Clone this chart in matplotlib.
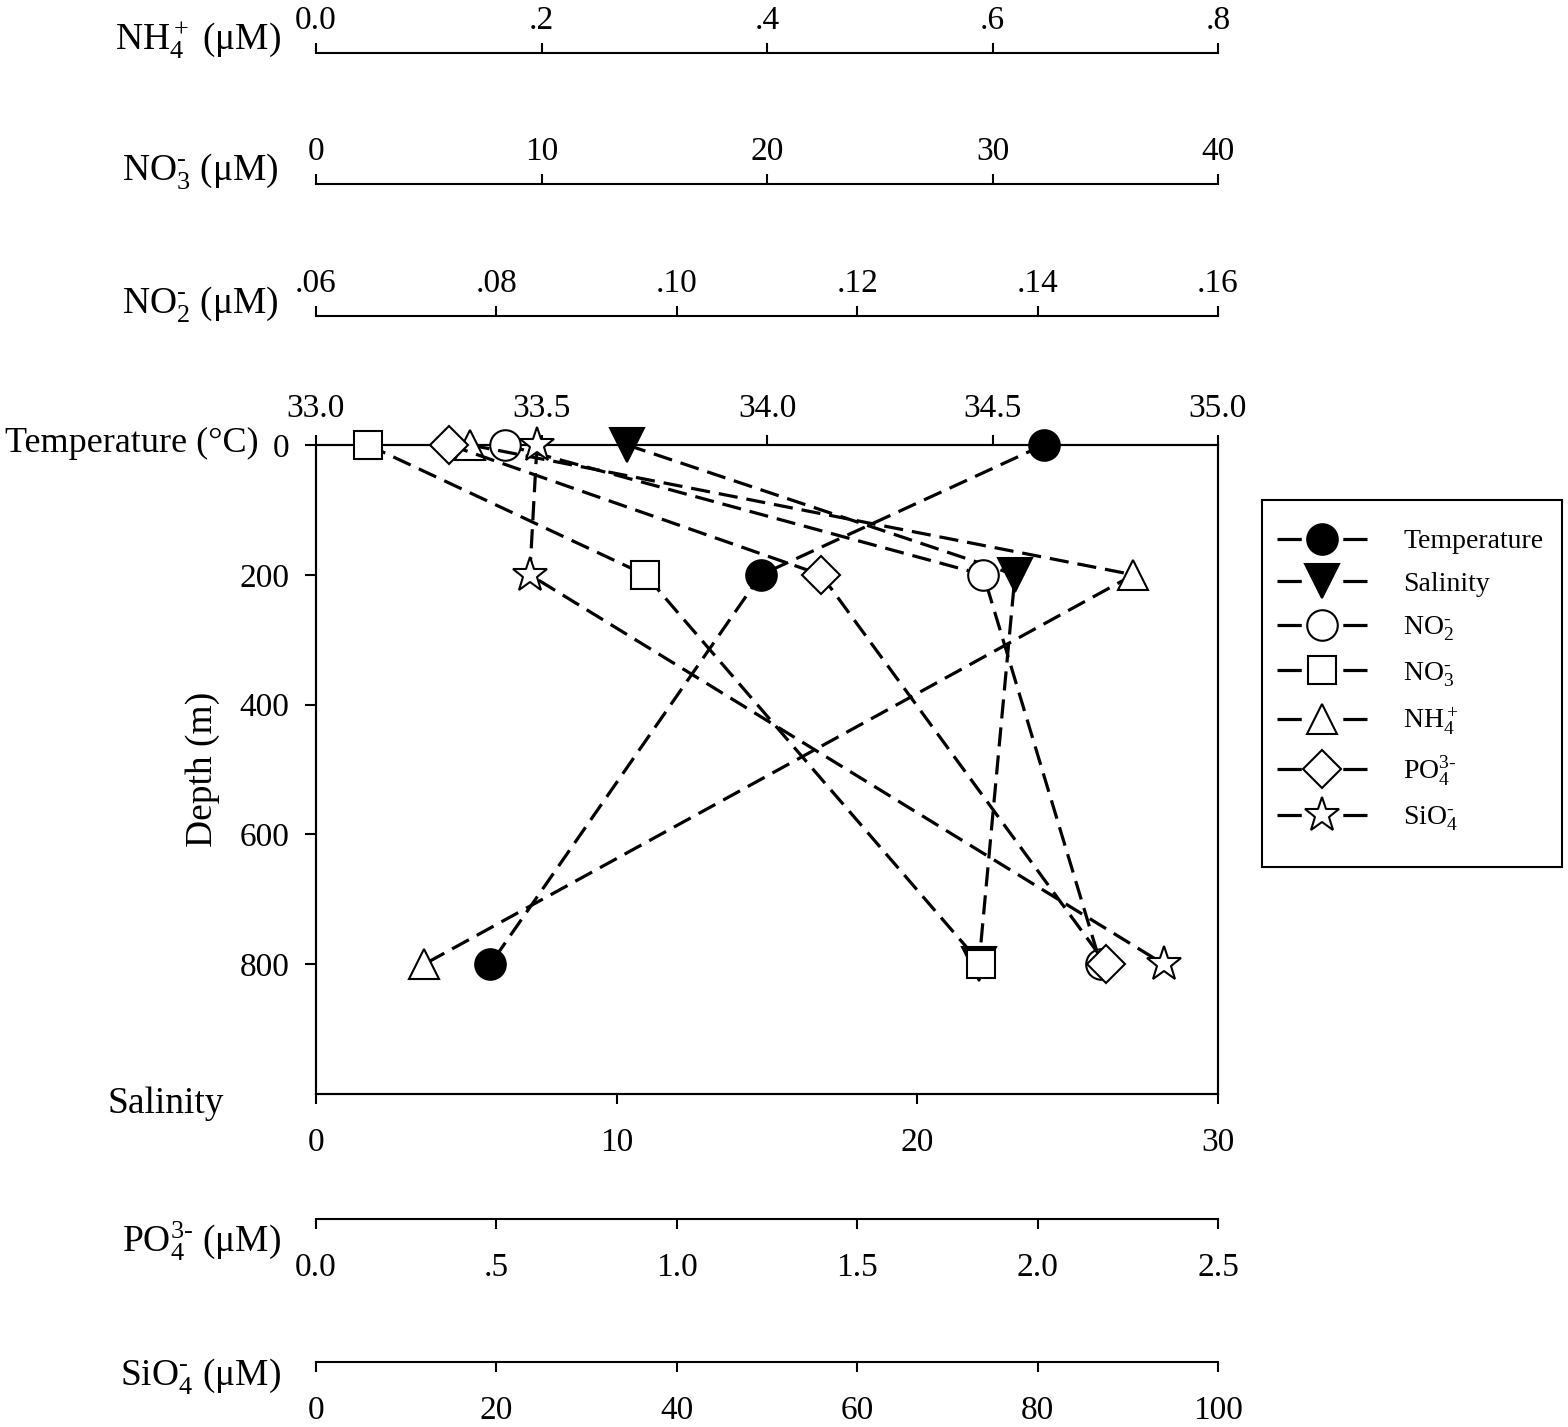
import numpy as np
import matplotlib.pyplot as plt
from matplotlib.lines import Line2D
from matplotlib.patches import Rectangle

plt.rcParams['font.family'] = ['Liberation Serif', 'DejaVu Serif']
plt.rcParams['mathtext.fontset'] = 'custom'
plt.rcParams['mathtext.rm'] = 'Liberation Serif'
plt.rcParams['mathtext.it'] = 'Liberation Serif:italic'
plt.rcParams['mathtext.bf'] = 'Liberation Serif:bold'

# ── data ─────────────────────────────────────────────────────────────────────
depth = [0, 200, 800]
temperature = [24.2, 14.8, 5.8]      # bottom scale 0-30
salinity = [33.69, 34.55, 34.47]     # top scale 33-35
no2 = [0.081, 0.134, 0.147]
no3 = [2.3, 14.6, 29.5]
nh4 = [0.137, 0.725, 0.096]
po4 = [0.37, 1.40, 2.19]
sio4 = [24.5, 23.7, 94.0]

names = ['Temperature', 'Salinity', r'NO$_2^{\text{-}}$', r'NO$_3^{\text{-}}$',
         'NH$_4^+$', r'PO$_4^{\text{3-}}$', r'SiO$_4^{\text{-}}$']

depth_ticks = [0, 200, 400, 600, 800]
temp_ticks = [0, 10, 20, 30]
sal_ticks = [33.0, 33.5, 34.0, 34.5, 35.0]
sal_labels = ['33.0', '33.5', '34.0', '34.5', '35.0']
nh4_ticks = [0.0, 0.2, 0.4, 0.6, 0.8]
nh4_labels = ['0.0', '.2', '.4', '.6', '.8']
no3_ticks = [0, 10, 20, 30, 40]
no2_ticks = [0.06, 0.08, 0.10, 0.12, 0.14, 0.16]
no2_labels = ['.06', '.08', '.10', '.12', '.14', '.16']
po4_ticks = [0.0, 0.5, 1.0, 1.5, 2.0, 2.5]
po4_labels = ['0.0', '.5', '1.0', '1.5', '2.0', '2.5']
sio4_ticks = [0, 20, 40, 60, 80, 100]

# ── layout helpers (pixels -> figure fraction) ───────────────────────────────
W, H = 1568, 1427
L, R = 316 / W, 1218 / W
def fy(p): return 1 - p / H

TICK = 24
LAB = 27
LW = 1.5
MLW = 2.3
DASH = (0, (6, 2.8))

fig = plt.figure(figsize=(W / 100, H / 100), dpi=100)
ax = fig.add_axes([L, fy(1094), R - L, fy(445) - fy(1094)])
ax.set_ylim(1000, 0)
ax.set_xlim(0, 30)
ax.set_yticks(depth_ticks)
ax.set_xticks(temp_ticks)
for s in ax.spines.values():
    s.set_linewidth(LW)
ax.tick_params(axis='y', direction='out', length=8, width=LW, pad=11, labelsize=TICK,
               right=False)
ax.tick_params(axis='x', direction='out', length=7, width=LW, pad=17, labelsize=TICK)
ax.set_ylabel('Depth (m)', fontsize=LAB, labelpad=14)

ax_sal = ax.twiny()
ax_sal.set_xlim(33, 35)
ax_sal.set_xticks(sal_ticks, sal_labels)
ax_sal.tick_params(axis='x', direction='out', length=7, width=LW, pad=8, labelsize=TICK)
for s in ax_sal.spines.values():
    s.set_linewidth(LW)

def twin(lim):
    t = ax.twiny()
    t.set_xlim(lim)
    t.axis('off')
    return t

series = [
    (ax, temperature, 'o', 22, 'k'),
    (ax_sal, salinity, 'v', 24, 'k'),
    (twin((0.06, 0.16)), no2, 'o', 22, 'w'),
    (twin((0, 40)), no3, 's', 19.5, 'w'),
    (twin((0, 0.8)), nh4, '^', 21, 'w'),
    (twin((0, 2.5)), po4, 'D', 19, 'w'),
    (twin((0, 100)), sio4, '*', 26, 'w'),
]

# legend handle: dash - marker - dash over a 90 px handle
LEG_DASH = (0, (7.6, 13.0))
handles = []
for (a, vals, m, ms, fc), nm in zip(series, names):
    a.plot(vals, depth, ls=DASH, color='k', lw=MLW, marker=m, ms=ms, mfc=fc,
           mec='k', mew=1.5, clip_on=False)
    handles.append(Line2D([], [], ls=LEG_DASH, color='k', lw=MLW, marker=m, ms=ms,
                          mfc=fc, mec='k', mew=1.5, label=nm))

# ── standalone scale bars ────────────────────────────────────────────────────
def scale_axis(ypix, lim, ticks, labels, top, pad):
    a = fig.add_axes([L, fy(ypix), R - L, 1e-5])
    a.set_xlim(lim)
    a.set_yticks([])
    a.patch.set_visible(False)
    for s in ('left', 'right', 'bottom' if top else 'top'):
        a.spines[s].set_visible(False)
    a.spines['top' if top else 'bottom'].set_linewidth(LW)
    if top:
        a.xaxis.tick_top()
    else:
        a.xaxis.tick_bottom()
    a.set_xticks(ticks, labels)
    a.tick_params(axis='x', direction='out', length=7, width=LW, pad=pad,
                  labelsize=TICK)
    return a

scale_axis(53, (0, 0.8), nh4_ticks, nh4_labels, True, 5)
scale_axis(184, (0, 40), no3_ticks, [str(t) for t in no3_ticks], True, 5)
scale_axis(316, (0.06, 0.16), no2_ticks, no2_labels, True, 5)
scale_axis(1219, (0, 2.5), po4_ticks, po4_labels, False, 17)
scale_axis(1362, (0, 100), sio4_ticks, [str(t) for t in sio4_ticks], False, 17)

# ── side labels ──────────────────────────────────────────────────────────────
def side(xpix, ypix, txt, ha='right', size=LAB):
    fig.text(xpix / W, fy(ypix), txt, ha=ha, va='baseline', fontsize=size)

side(281, 50, r'NH$_4^+$ ($\mathrm{\mu}$M)')
side(279, 180, r'NO$_3^{\text{-}}$ ($\mathrm{\mu}$M)')
side(279, 313, r'NO$_2^{\text{-}}$ ($\mathrm{\mu}$M)')
side(5, 452, 'Temperature (\u00b0C)', ha='left', size=26)
side(107, 1113, 'Salinity', ha='left')
side(281, 1252, r'PO$_4^{\text{3-}}$ ($\mathrm{\mu}$M)')
side(281, 1385, r'SiO$_4^{\text{-}}$ ($\mathrm{\mu}$M)')

# ── legend: frame drawn separately so row placement can be tuned ──────────
fig.patches.append(Rectangle((1262 / W, fy(867)), 300 / W, 367 / H,
                             transform=fig.transFigure, fill=False, ec='k', lw=LW))
fig.legend(handles=handles, loc='upper left', bbox_to_anchor=(1277 / W, fy(529)),
           frameon=False, fontsize=20, handlelength=3.24, handletextpad=1.3,
           labelspacing=0.62, borderpad=0, borderaxespad=0)

fig.savefig('out.png', dpi=100)
